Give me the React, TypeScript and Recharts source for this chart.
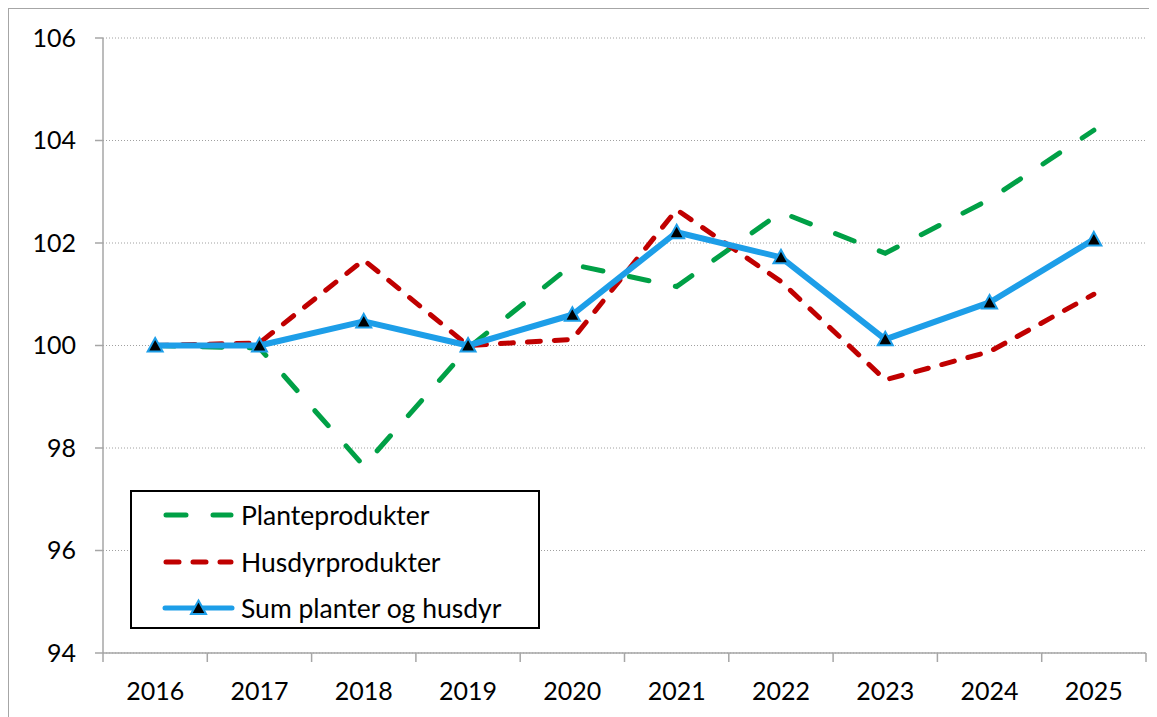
import { LineChart, Line, XAxis, YAxis, CartesianGrid } from 'recharts';

const years = ['2016', '2017', '2018', '2019', '2020', '2021', '2022', '2023', '2024', '2025'];
const planteprodukter = [100, 99.95, 97.65, 99.95, 101.58, 101.15, 102.6, 101.8, 102.85, 104.2];
const husdyrprodukter = [100, 100.05, 101.67, 100, 100.12, 102.65, 101.25, 99.33, 99.88, 101.0];
const sumPlanterHusdyr = [100, 100, 100.47, 100, 100.6, 102.21, 101.72, 100.12, 100.84, 102.07];
const yTicks = [94, 96, 98, 100, 102, 104, 106];

const seriesNames = ['Planteprodukter', 'Husdyrprodukter', 'Sum planter og husdyr'];

const data = years.map((year, i) => ({
  year,
  plante: planteprodukter[i],
  husdyr: husdyrprodukter[i],
  sum: sumPlanterHusdyr[i],
}));

const FONT = 'Lato, "Open Sans", sans-serif';
const GREEN = '#00a046';
const RED = '#c00000';
const BLUE = '#1d9ee8';
const AXIS = '#a6a6a6';

const PLOT_W = 1043;
const BAND = PLOT_W / years.length;

function Triangle(props: any) {
  const { cx, cy } = props;
  if (cx == null || cy == null) return null;
  return (
    <polygon
      points={`${cx},${cy - 7.5} ${cx + 7.5},${cy + 6} ${cx - 7.5},${cy + 6}`}
      fill="#000"
      stroke={BLUE}
      strokeWidth={2}
    />
  );
}

function YearTick(props: any) {
  const { x, y, payload, index } = props;
  const top = y - 29;
  const half = BAND / 2;
  return (
    <g>
      <line x1={x - half} x2={x - half} y1={top} y2={top + 9} stroke={AXIS} strokeWidth={1.5} />
      {index === years.length - 1 && (
        <line x1={x + half} x2={x + half} y1={top} y2={top + 9} stroke={AXIS} strokeWidth={1.5} />
      )}
      <text x={x} y={y} dy="0.71em" textAnchor="middle" fill="#000" fontSize={25} fontFamily={FONT}>
        {payload.value}
      </text>
    </g>
  );
}

function LegendBox() {
  const samples = [
    <line x1={4} x2={69} y1={10} y2={10} stroke={GREEN} strokeWidth={5} strokeLinecap="round" strokeDasharray="20 27" />,
    <line x1={4} x2={69} y1={10} y2={10} stroke={RED} strokeWidth={5} strokeLinecap="round" strokeDasharray="13 14" />,
    <g>
      <line x1={3} x2={70} y1={10} y2={10} stroke={BLUE} strokeWidth={5} strokeLinecap="round" />
      <Triangle cx={36.5} cy={10} />
    </g>,
  ];
  return (
    <div
      style={{
        position: 'absolute',
        left: 121,
        top: 481,
        width: 410,
        height: 139,
        boxSizing: 'border-box',
        border: '2px solid #000',
        background: '#fff',
        fontFamily: FONT,
        fontSize: 26.5,
      }}
    >
      {seriesNames.map((name, i) => (
        <div key={name} style={{ display: 'flex', alignItems: 'center', height: 46.5 }}>
          <svg width={73} height={20} style={{ marginLeft: 30, marginRight: 6, overflow: 'visible' }}>
            {samples[i]}
          </svg>
          <span>{name}</span>
        </div>
      ))}
    </div>
  );
}

export default function App() {
  return (
    <div
      style={{
        position: 'relative',
        width: 1148,
        height: 708,
        borderTop: `1.5px solid ${AXIS}`,
        borderLeft: `1.5px solid ${AXIS}`,
        background: '#fff',
      }}
    >
      <LineChart width={1148} height={708} data={data} margin={{ top: 29, right: 11, bottom: 0, left: 0 }}>
        <CartesianGrid vertical={false} stroke="#a0a0a0" strokeDasharray="1 2" />
        <XAxis
          dataKey="year"
          height={64}
          tickSize={9}
          tickMargin={20}
          tickLine={false}
          padding={{ left: BAND / 2, right: BAND / 2 }}
          axisLine={{ stroke: AXIS, strokeWidth: 1.5 }}
          tick={<YearTick />}
          interval={0}
        />
        <YAxis
          type="number"
          domain={[94, 106]}
          ticks={yTicks}
          width={94}
          tickSize={8}
          tickMargin={19}
          axisLine={{ stroke: AXIS, strokeWidth: 1.5 }}
          tickLine={{ stroke: AXIS, strokeWidth: 1.5 }}
          tick={{ fill: '#000', fontSize: 25, fontFamily: FONT }}
        />
        <Line
          dataKey="plante"
          name={seriesNames[0]}
          stroke={GREEN}
          strokeWidth={5}
          strokeLinecap="round"
          strokeDasharray="20 27"
          dot={false}
          activeDot={false}
          isAnimationActive={false}
        />
        <Line
          dataKey="husdyr"
          name={seriesNames[1]}
          stroke={RED}
          strokeWidth={5}
          strokeLinecap="round"
          strokeDasharray="13 14"
          dot={false}
          activeDot={false}
          isAnimationActive={false}
        />
        <Line
          dataKey="sum"
          name={seriesNames[2]}
          stroke={BLUE}
          strokeWidth={6}
          strokeLinejoin="round"
          dot={(p: any) => <Triangle key={`tri-${p.index}`} {...p} />}
          activeDot={false}
          isAnimationActive={false}
        />
      </LineChart>
      <LegendBox />
    </div>
  );
}
